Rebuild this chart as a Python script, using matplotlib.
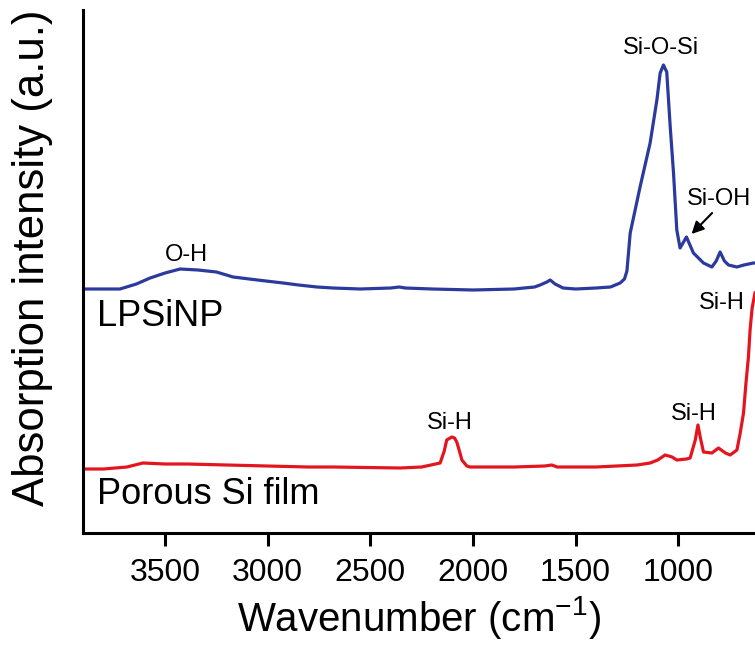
import numpy as np
import matplotlib
matplotlib.use("Agg")
from matplotlib import pyplot as plt

plt.rcParams["font.family"] = ["Liberation Sans", "DejaVu Sans"]
plt.rcParams["mathtext.fontset"] = "custom"
plt.rcParams["mathtext.rm"] = "Liberation Sans"
plt.rcParams["mathtext.it"] = "Liberation Sans"

# LPSiNP spectrum (offset upward), intensity in a.u.
lpsinp_wn = [3900, 3800, 3720, 3640, 3573, 3500, 3427, 3340, 3250, 3169, 3050, 2925,
             2850, 2760, 2682, 2550, 2400, 2360, 2330, 2200, 2000, 1800, 1700, 1673,
             1640, 1624, 1600, 1561, 1500, 1400, 1330, 1283, 1262, 1250, 1234, 1186, 1137,
             1104, 1088, 1072, 1056, 1039, 1023, 1007, 991, 960, 926, 877, 836, 815,
             796, 775, 755, 714, 680, 633, 626]
lpsinp_int = [244, 244, 244, 249, 255, 260, 264, 263, 261, 256, 253, 250,
              248, 246, 245, 244, 245, 246, 245, 244, 243, 244, 246, 248,
              251, 253, 249, 245, 244, 245, 246, 250, 254, 262, 300, 346, 390,
              433, 460, 468, 461, 406, 360, 303, 285, 296, 280, 270, 266, 272,
              281, 272, 268, 266, 268, 270, 270]

# Porous Si film spectrum
film_wn = [3900, 3800, 3686, 3608, 3500, 3393, 3200, 3003, 2800, 2682, 2355, 2250,
           2160, 2140, 2128, 2103, 2090, 2079, 2066, 2054, 2030, 2014, 1800, 1650,
           1616, 1590, 1541, 1400, 1200, 1137, 1100, 1064, 1030, 1007, 960, 942,
           917, 904, 893, 877, 836, 804, 770, 747, 714, 698, 682, 670, 658, 650,
           640, 626]
film_int = [64, 64, 66, 70, 69, 69, 68, 67, 66, 66, 65, 66,
            70, 82, 93, 96, 95, 91, 82, 73, 67, 66, 66, 67,
            68, 66, 66, 66, 68, 70, 73, 78, 76, 73, 74, 75,
            93, 108, 96, 81, 80, 85, 80, 78, 83, 100, 120, 150, 176, 203,
            225, 240]

xticks = [3500, 3000, 2500, 2000, 1500, 1000]

fig = plt.figure(figsize=(7.55, 6.53), dpi=100)
ax = fig.add_axes([83 / 755, 1 - 533 / 653, 1 - 83 / 755, 523 / 653])

ax.plot(lpsinp_wn, lpsinp_int, color="#2b3a9c", lw=2.3)
ax.plot(film_wn, film_int, color="#e3151f", lw=2.3)

ax.set_xlim(3900, 626)
ax.set_ylim(0, 523)
ax.set_xticks(xticks)
ax.set_yticks([])

for s in ["top", "right"]:
    ax.spines[s].set_visible(False)
for s in ["left", "bottom"]:
    ax.spines[s].set_linewidth(2.2)

ax.tick_params(axis="x", direction="out", length=9, width=2.2, labelsize=23, pad=9)

ax.set_xlabel("Wavenumber (cm$^{-1}$)", fontsize=29, labelpad=4)
ax.set_ylabel("Absorption intensity (a.u.)", fontsize=31.5)
ax.yaxis.set_label_coords(-0.045, 0.526)

# peak labels
fs = 17
ax.text(3398, 278, "O-H", fontsize=fs, ha="center", va="center")
ax.text(1083, 485, "Si-O-Si", fontsize=fs, ha="center", va="center")
ax.text(801, 334, "Si-OH", fontsize=fs, ha="center", va="center", clip_on=False)
ax.text(786, 230, "Si-H", fontsize=fs, ha="center", va="center")
ax.text(2111, 110, "Si-H", fontsize=fs, ha="center", va="center")
ax.text(922, 119, "Si-H", fontsize=fs, ha="center", va="center")
ax.annotate("", xy=(935, 299), xytext=(835, 320),
            arrowprops=dict(arrowstyle="-|>", color="black", lw=1.5,
                            mutation_scale=18, shrinkA=0, shrinkB=0))

# sample labels
ax.text(3832, 217, "LPSiNP", fontsize=26, ha="left", va="center")
ax.text(3832, 38, "Porous Si film", fontsize=26, ha="left", va="center")

fig.savefig("out.png", dpi=100)
